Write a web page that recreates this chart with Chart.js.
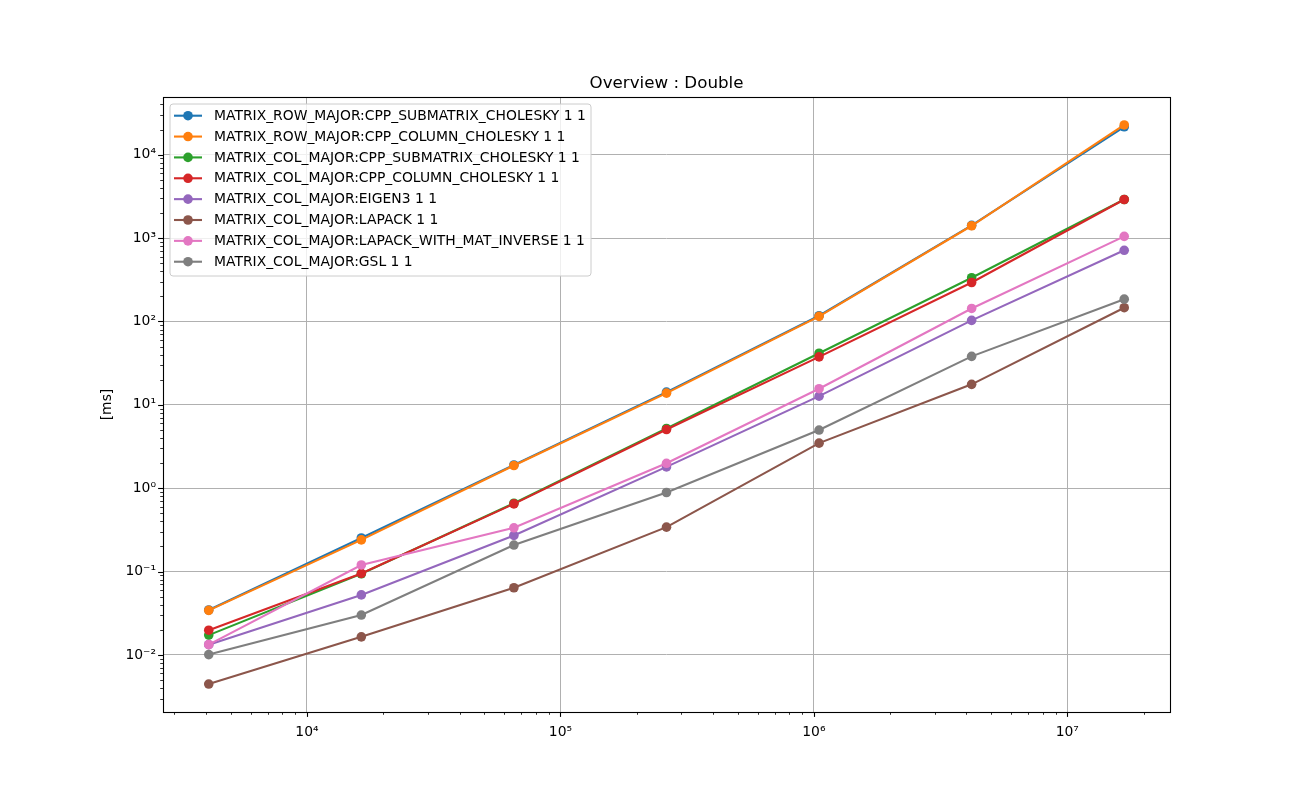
<!DOCTYPE html>
<html>
<head>
<meta charset="utf-8">
<script src="https://cdn.jsdelivr.net/npm/chart.js@4.4.1/dist/chart.umd.min.js"></script>
<style>
  html, body { margin: 0; padding: 0; background: #fff; }
</style>
</head>
<body>
<canvas id="overviewChart" width="1300" height="800"></canvas>
<script>
// matrix sizes (n*n elements) on the x axis
var sizes = [4096, 16384, 65536, 262144, 1048576, 4194304, 16777216];

var seriesNames = [
  'MATRIX_ROW_MAJOR:CPP_SUBMATRIX_CHOLESKY 1 1',
  'MATRIX_ROW_MAJOR:CPP_COLUMN_CHOLESKY 1 1',
  'MATRIX_COL_MAJOR:CPP_SUBMATRIX_CHOLESKY 1 1',
  'MATRIX_COL_MAJOR:CPP_COLUMN_CHOLESKY 1 1',
  'MATRIX_COL_MAJOR:EIGEN3 1 1',
  'MATRIX_COL_MAJOR:LAPACK 1 1',
  'MATRIX_COL_MAJOR:LAPACK_WITH_MAT_INVERSE 1 1',
  'MATRIX_COL_MAJOR:GSL 1 1'
];

// times in ms
var rowSubmatrix  = [0.0346, 0.253, 1.90, 14.2, 117, 1420, 21600];
var rowColumn     = [0.0343, 0.240, 1.87, 13.8, 115, 1404, 22700];
var colSubmatrix  = [0.0173, 0.094, 0.66, 5.2, 41.6, 334, 2900];
var colColumn     = [0.0198, 0.095, 0.649, 5.05, 37.6, 293, 2900];
var eigen3        = [0.0133, 0.0525, 0.271, 1.80, 12.7, 103, 713];
var lapack        = [0.00448, 0.0165, 0.064, 0.341, 3.47, 17.6, 146];
var lapackInverse = [0.0133, 0.120, 0.335, 1.99, 15.6, 143, 1048];
var gsl           = [0.0101, 0.0301, 0.208, 0.888, 4.98, 38.1, 185];

var seriesValues = [rowSubmatrix, rowColumn, colSubmatrix, colColumn, eigen3, lapack, lapackInverse, gsl];
var colors = ['#1f77b4', '#ff7f0e', '#2ca02c', '#d62728', '#9467bd', '#8c564b', '#e377c2', '#7f7f7f'];

var xMin = 2703, xMax = 2.543e7;
var yMin = 0.00207, yMax = 49100;

var FONT = 'DejaVu Sans';
var SUP = {'0': '⁰', '1': '¹', '2': '²', '3': '³', '4': '⁴', '5': '⁵', '6': '⁶', '7': '⁷', '8': '⁸', '9': '⁹', '-': '⁻'};

function isPow10(v) {
  var l = Math.log10(v);
  return Math.abs(l - Math.round(l)) < 1e-9;
}

function powLabel(v) {
  if (!isPow10(v)) return '';
  var e = String(Math.round(Math.log10(v)));
  return '10' + e.split('').map(function (c) { return SUP[c]; }).join('');
}

// 1..9 x 10^n ticks, like matplotlib's major + minor log ticks
function logTicks(min, max) {
  var out = [];
  for (var e = Math.floor(Math.log10(min)); e <= Math.ceil(Math.log10(max)); e++) {
    for (var m = 1; m < 10; m++) {
      var v = parseFloat((m * Math.pow(10, e)).toPrecision(6));
      if (v >= min && v <= max) out.push({ value: v });
    }
  }
  return out;
}

var gridColor = function (c) {
  return c.tick && isPow10(c.tick.value) ? '#b0b0b0' : 'rgba(0,0,0,0)';
};

var MARKER_R = 4.8;

var datasets = seriesNames.map(function (name, i) {
  return {
    label: name,
    data: sizes.map(function (s, j) { return { x: s, y: seriesValues[i][j] }; }),
    borderColor: colors[i],
    backgroundColor: colors[i],
    pointBackgroundColor: colors[i],
    pointBorderWidth: 0,
    pointRadius: MARKER_R,
    pointHoverRadius: MARKER_R,
    borderWidth: 2.1,
    tension: 0,
    fill: false,
    order: seriesNames.length - i
  };
});

// tick marks, axes box and the inset legend
var decorations = {
  id: 'decorations',
  afterDraw: function (chart) {
    var ctx = chart.ctx, a = chart.chartArea;
    var xs = chart.scales.x, ys = chart.scales.y;
    ctx.save();
    ctx.strokeStyle = '#000';

    xs.ticks.forEach(function (t) {
      var px = Math.round(xs.getPixelForValue(t.value)) + 0.5;
      var major = isPow10(t.value);
      ctx.lineWidth = major ? 1.1 : 0.8;
      ctx.beginPath();
      ctx.moveTo(px, a.bottom);
      ctx.lineTo(px, a.bottom + (major ? 4.9 : 2.8));
      ctx.stroke();
    });
    ys.ticks.forEach(function (t) {
      var py = Math.round(ys.getPixelForValue(t.value)) + 0.5;
      var major = isPow10(t.value);
      ctx.lineWidth = major ? 1.1 : 0.8;
      ctx.beginPath();
      ctx.moveTo(a.left, py);
      ctx.lineTo(a.left - (major ? 4.9 : 2.8), py);
      ctx.stroke();
    });

    ctx.lineWidth = 1.1;
    ctx.strokeRect(Math.round(a.left) + 0.5, Math.round(a.top) + 0.5,
      Math.round(a.right - a.left), Math.round(a.bottom - a.top));

    // legend box
    var bx = 170, by = 104, bw = 421, bh = 172, r = 3;
    ctx.beginPath();
    ctx.moveTo(bx + r, by);
    ctx.arcTo(bx + bw, by, bx + bw, by + bh, r);
    ctx.arcTo(bx + bw, by + bh, bx, by + bh, r);
    ctx.arcTo(bx, by + bh, bx, by, r);
    ctx.arcTo(bx, by, bx + bw, by, r);
    ctx.closePath();
    ctx.fillStyle = 'rgba(255,255,255,0.8)';
    ctx.fill();
    ctx.strokeStyle = '#cccccc';
    ctx.lineWidth = 1;
    ctx.stroke();

    ctx.font = '13.9px "' + FONT + '"';
    ctx.textBaseline = 'middle';
    ctx.textAlign = 'left';
    seriesNames.forEach(function (name, i) {
      var cy = 115.7 + i * 20.86;
      ctx.strokeStyle = colors[i];
      ctx.lineWidth = 2.1;
      ctx.beginPath();
      ctx.moveTo(174, cy);
      ctx.lineTo(202, cy);
      ctx.stroke();
      ctx.fillStyle = colors[i];
      ctx.beginPath();
      ctx.arc(188, cy, MARKER_R, 0, Math.PI * 2);
      ctx.fill();
      ctx.fillStyle = '#000';
      ctx.fillText(name, 214, cy + 0.5);
    });
    ctx.restore();
  }
};

new Chart(document.getElementById('overviewChart').getContext('2d'), {
  type: 'line',
  data: { datasets: datasets },
  options: {
    responsive: false,
    animation: false,
    events: [],
    layout: { padding: { top: 74, left: 0, right: 130, bottom: 0 } },
    plugins: {
      legend: { display: false },
      tooltip: { enabled: false },
      title: {
        display: true,
        fullSize: false,
        text: 'Overview : Double',
        color: '#000',
        font: { family: FONT, size: 16.7, weight: 'normal' },
        padding: { top: 0, bottom: 3 }
      }
    },
    scales: {
      x: {
        type: 'logarithmic',
        min: xMin,
        max: xMax,
        afterBuildTicks: function (scale) { scale.ticks = logTicks(xMin, xMax); },
        afterFit: function (scale) { scale.height = 88; },
        ticks: {
          autoSkip: false,
          maxRotation: 0,
          padding: 12,
          color: '#000',
          font: { family: FONT, size: 13.9 },
          callback: function (v) { return powLabel(v); }
        },
        grid: { drawTicks: false, color: gridColor, lineWidth: 1 },
        border: { display: false }
      },
      y: {
        type: 'logarithmic',
        min: yMin,
        max: yMax,
        afterBuildTicks: function (scale) { scale.ticks = logTicks(yMin, yMax); },
        afterFit: function (scale) { scale.width = 163; },
        title: {
          display: true,
          text: '[ms]',
          color: '#000',
          font: { family: FONT, size: 13.9 },
          padding: { top: 98.7, bottom: 0 }
        },
        ticks: {
          autoSkip: false,
          padding: 7,
          color: '#000',
          font: { family: FONT, size: 13.9 },
          callback: function (v) { return powLabel(v); }
        },
        grid: { drawTicks: false, color: gridColor, lineWidth: 1 },
        border: { display: false }
      }
    }
  },
  plugins: [decorations]
});
</script>
</body>
</html>
